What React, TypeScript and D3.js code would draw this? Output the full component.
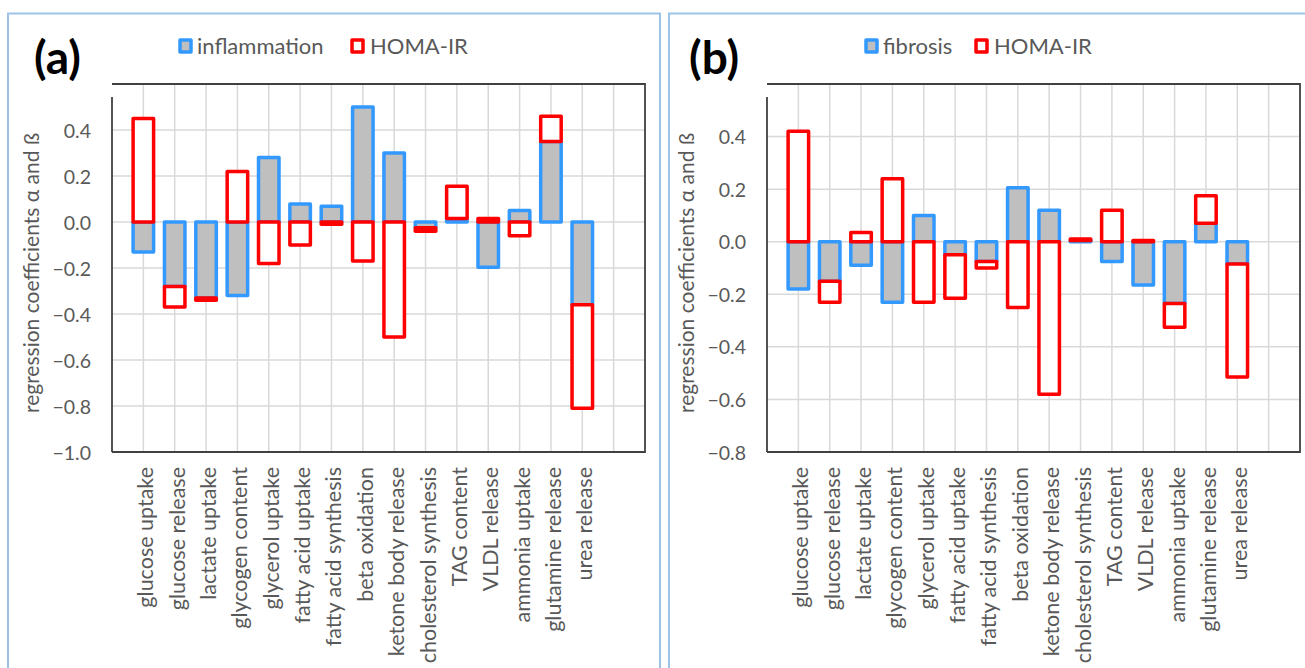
import React from 'react'
import * as d3 from 'd3'

// categories on the x axis (same for both panels)
const categories = [
  'glucose uptake', 'glucose release', 'lactate uptake', 'glycogen content',
  'glycerol uptake', 'fatty acid uptake', 'fatty acid synthesis', 'beta oxidation',
  'ketone body release', 'cholesterol synthesis', 'TAG content', 'VLDL release',
  'ammonia uptake', 'glutamine release', 'urea release',
]

// panel (a)
const inflammation = [-0.13, -0.28, -0.33, -0.32, 0.28, 0.078, 0.068, 0.5, 0.3, -0.025, 0.015, -0.197, 0.05, 0.35, -0.36]
const homaA = [0.45, -0.09, -0.01, 0.22, -0.18, -0.1, -0.01, -0.17, -0.5, -0.015, 0.14, 0.015, -0.06, 0.11, -0.45]
const ticksA = [-1.0, -0.8, -0.6, -0.4, -0.2, 0.0, 0.2, 0.4]

// panel (b)
const fibrosis = [-0.18, -0.15, -0.09, -0.23, 0.1, -0.05, -0.075, 0.205, 0.12, 0.005, -0.075, -0.165, -0.235, 0.07, -0.085]
const homaB = [0.42, -0.08, 0.035, 0.24, -0.23, -0.165, -0.025, -0.25, -0.58, 0.005, 0.12, 0.005, -0.09, 0.105, -0.43]
const ticksB = [-0.8, -0.6, -0.4, -0.2, 0.0, 0.2, 0.4]

const FONT = 'Lato, "Open Sans", sans-serif'
const BLUE = '#3399ff'
const RED = '#ff0000'
const GRAY = '#bfbfbf'
const TEXT = '#595959'

type PanelProps = {
  tag: string
  name1: string
  s1: number[]
  s2: number[]
  ticks: number[]
  yDomain: [number, number]
  left: number
  right: number
  legendX: number
  legendGap: number
}

const Panel = ({ tag, name1, s1, s2, ticks, yDomain, left, right, legendX, legendGap }: PanelProps) => {
  const top = 84
  const bottom = 452
  const x = d3.scaleLinear().domain([0, categories.length + 2]).range([left, right])
  const y = d3.scaleLinear().domain(yDomain).range([bottom, top])

  const rows = categories.map((c, i) => ({ c, i, s1: s1[i], s2: s2[i] }))
  const stack = d3.stack<any>().keys(['s1', 's2']).offset(d3.stackOffsetDiverging)
  const series = stack(rows)

  const barW = 20.5
  const fmt = d3.format('.1f')
  const styles = [
    { fill: GRAY, stroke: BLUE },
    { fill: '#ffffff', stroke: RED },
  ]

  return (
    <g>
      {/* gridlines */}
      {ticks.map(t => (
        <line key={'h' + t} x1={left} x2={right} y1={y(t)} y2={y(t)} stroke="#d9d9d9" strokeWidth={1.5} />
      ))}
      {d3.range(1, categories.length + 2).map(k => (
        <line key={'v' + k} x1={x(k)} x2={x(k)} y1={top} y2={bottom} stroke="#d9d9d9" strokeWidth={1.5} />
      ))}

      {/* bars */}
      {series.map((s, si) => (
        <g key={si}>
          {s.map((d, i) => {
            const y0 = y(Math.max(d[0], d[1]))
            const y1 = y(Math.min(d[0], d[1]))
            return (
              <rect
                key={i}
                x={x(i + 1) - barW / 2}
                y={y0}
                width={barW}
                height={Math.max(y1 - y0, 0.8)}
                fill={styles[si].fill}
                stroke={styles[si].stroke}
                strokeWidth={3.5}
                strokeLinejoin="round"
              />
            )
          })}
        </g>
      ))}

      {/* plot border */}
      <path d={`M${left},${top}H${right}V${bottom}H${left}`} fill="none" stroke="#404040" strokeWidth={1.8} />
      <line x1={left} x2={left} y1={97} y2={bottom} stroke="#404040" strokeWidth={1.8} />

      {/* y ticks */}
      {ticks.map(t => (
        <text key={'t' + t} x={left - 21} y={y(t)} textAnchor="end" dominantBaseline="central"
          fontFamily={FONT} fontSize={19.5} fill={TEXT}>{fmt(t)}</text>
      ))}
      <text transform={`translate(${left - 82},273) rotate(-90)`} textAnchor="middle" dominantBaseline="central"
        fontFamily={FONT} fontSize={21} fill={TEXT}>regression coefficients α and ß</text>

      {/* x labels */}
      {categories.map((c, i) => (
        <text key={c} transform={`translate(${x(i + 1) + 2},467) rotate(-90)`} textAnchor="end" dominantBaseline="central"
          fontFamily={FONT} fontSize={21.5} fill={TEXT}>{c}</text>
      ))}

      {/* panel tag */}
      <text x={left - 78} y={74} fontFamily={FONT} fontWeight={700} fontSize={46} fill="#000">{tag}</text>

      {/* legend */}
      <rect x={legendX} y={40} width={11} height={12} fill={GRAY} stroke={BLUE} strokeWidth={3.5} strokeLinejoin="round" />
      <text x={legendX + 17} y={54} fontFamily={FONT} fontSize={22} fill={TEXT}>{name1}</text>
      <rect x={legendX + legendGap} y={40} width={11} height={12} fill="#fff" stroke={RED} strokeWidth={3.5} strokeLinejoin="round" />
      <text x={legendX + legendGap + 18} y={54} fontFamily={FONT} fontSize={22} fill={TEXT}>HOMA-IR</text>
    </g>
  )
}

export default function App() {
  return (
    <svg width={1305} height={668} style={{ position: 'absolute', left: 0, top: 0, background: '#fff' }}>
      <rect x={0} y={0} width={1305} height={668} fill="#fff" />
      {/* panel frames */}
      <rect x={8} y={13.5} width={652} height={700} fill="none" stroke="#9dc3e6" strokeWidth={2} />
      <rect x={669} y={13.5} width={660} height={700} fill="none" stroke="#9dc3e6" strokeWidth={2} />
      <Panel tag="(a)" name1="inflammation" s1={inflammation} s2={homaA} ticks={ticksA} yDomain={[-1.0, 0.6]}
        left={112} right={645} legendX={180} legendGap={172} />
      <Panel tag="(b)" name1="fibrosis" s1={fibrosis} s2={homaB} ticks={ticksB} yDomain={[-0.8, 0.6]}
        left={767} right={1300} legendX={866} legendGap={110} />
    </svg>
  )
}
